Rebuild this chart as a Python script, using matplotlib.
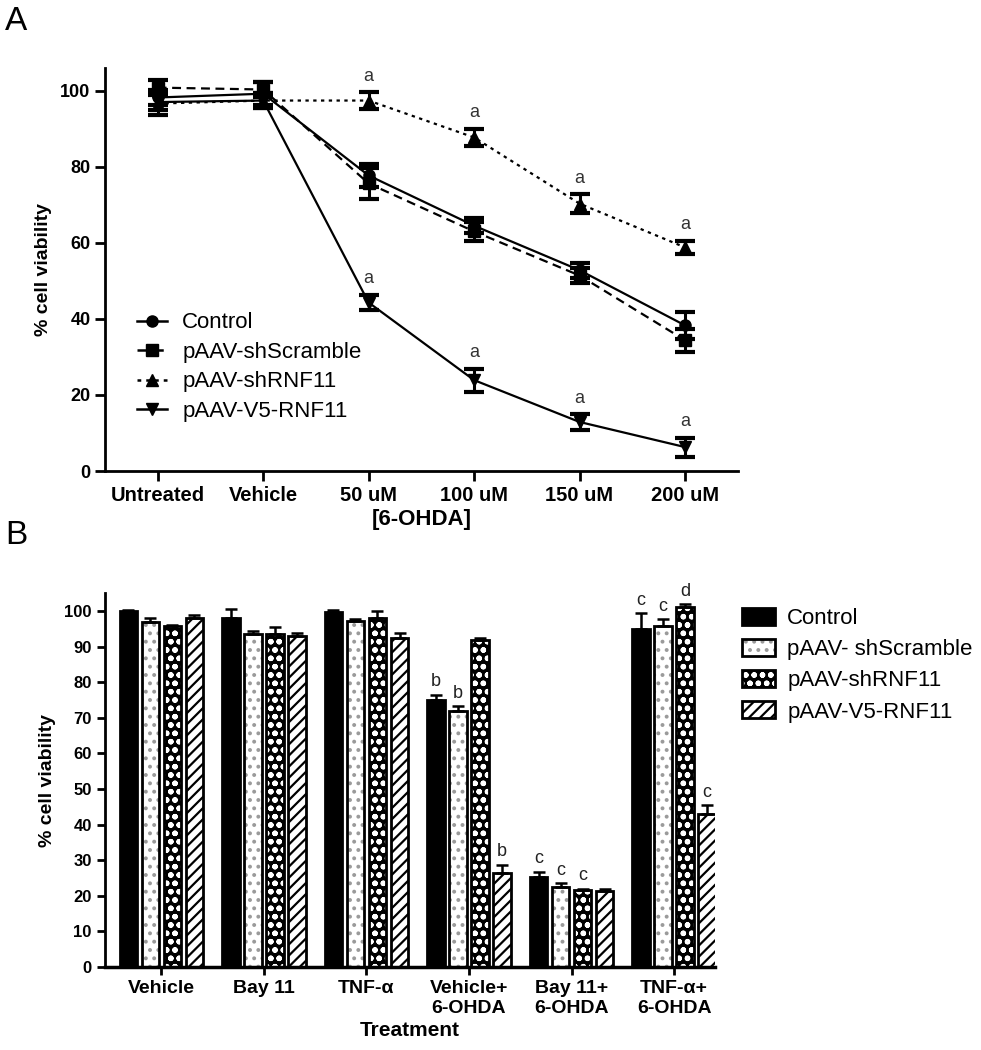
import matplotlib
matplotlib.use("Agg")
import matplotlib.pyplot as plt
from matplotlib.lines import Line2D
from matplotlib.patches import Patch
import numpy as np

plt.rcParams['font.family'] = ['Liberation Sans', 'DejaVu Sans']
plt.rcParams['hatch.linewidth'] = 1.6

# Panel A: dose response
doses = ["Untreated", "Vehicle", "50 uM", "100 uM", "150 uM", "200 uM"]
control = [98.2, 99.2, 77.7, 64.5, 52.8, 38.3]
control_err = [2.0, 3.0, 3.0, 2.0, 2.0, 3.5]
scramble = [100.8, 100.3, 75.6, 63.0, 51.4, 34.4]
scramble_err = [2.0, 2.0, 4.0, 2.5, 2.0, 3.0]
shrnf11 = [96.6, 97.4, 97.4, 87.7, 70.3, 58.8]
shrnf11_err = [3.0, 2.0, 2.2, 2.3, 2.5, 1.8]
v5rnf11 = [97.0, 97.4, 44.3, 23.9, 12.9, 6.3]
v5rnf11_err = [2.0, 2.0, 2.0, 3.0, 2.0, 2.5]
a_labels_shrnf11 = ["", "", "a", "a", "a", "a"]
a_labels_v5 = ["", "", "a", "a", "a", "a"]

# Panel B: treatments
treatments = ["Vehicle", "Bay 11", "TNF-\u03b1", "Vehicle+\n6-OHDA", "Bay 11+\n6-OHDA", "TNF-\u03b1+\n6-OHDA"]
groups = ["Control", "pAAV- shScramble", "pAAV-shRNF11", "pAAV-V5-RNF11"]
b_control = [100.0, 98.0, 99.8, 75.0, 25.3, 95.0]
b_control_err = [0.3, 2.5, 0.5, 1.5, 1.5, 4.5]
b_scramble = [97.0, 93.5, 97.3, 72.0, 22.5, 95.8]
b_scramble_err = [1.0, 1.0, 0.6, 1.3, 1.0, 2.0]
b_shrnf11 = [95.7, 93.5, 98.0, 92.0, 21.7, 101.0]
b_shrnf11_err = [0.4, 2.0, 2.0, 0.3, 0.3, 1.0]
b_v5 = [98.0, 93.0, 92.5, 26.5, 21.5, 43.0]
b_v5_err = [1.0, 0.8, 1.3, 2.3, 0.3, 2.5]
b_letters = [
    ["", "", "", "b", "c", "c"],
    ["", "", "", "b", "c", "c"],
    ["", "", "", "", "c", "d"],
    ["", "", "", "b", "", "c"],
]

fig = plt.figure(figsize=(9.81, 10.5), dpi=100)

# ---------- Panel A ----------
ax1 = fig.add_axes([0.107, 0.5514, 0.645, 0.384])
x = np.arange(len(doses))
series = [
    ("Control", control, control_err, "o", "-"),
    ("pAAV-shScramble", scramble, scramble_err, "s", (0, (4, 2.5))),
    ("pAAV-shRNF11", shrnf11, shrnf11_err, "^", (0, (1.5, 2))),
    ("pAAV-V5-RNF11", v5rnf11, v5rnf11_err, "v", "-"),
]
handles = []
for name, vals, errs, mk, ls in series:
    ax1.errorbar(x, vals, yerr=errs, color="black", marker=mk, markersize=8,
                 linestyle=ls, linewidth=1.6, elinewidth=2.2, capsize=7,
                 capthick=3)
    handles.append(Line2D([], [], color="black", marker=mk, markersize=8,
                          linestyle=ls, linewidth=1.8, label=name))

for i, lab in enumerate(a_labels_shrnf11):
    if lab:
        ax1.text(x[i], shrnf11[i] + shrnf11_err[i] + 2.0, lab, ha="center",
                 va="bottom", fontsize=13, color="#333333")
for i, lab in enumerate(a_labels_v5):
    if lab:
        ax1.text(x[i], v5rnf11[i] + v5rnf11_err[i] + 2.0, lab, ha="center",
                 va="bottom", fontsize=13, color="#333333")

ax1.set_xlim(-0.5, 5.5)
ax1.set_ylim(0, 106)
ax1.set_yticks([0, 20, 40, 60, 80, 100])
ax1.set_xticks(x)
ax1.set_xticklabels(doses, fontweight="bold", fontsize=14.5)
for t in ax1.get_yticklabels():
    t.set_fontweight("bold")
    t.set_fontsize(13)
ax1.spines["top"].set_visible(False)
ax1.spines["right"].set_visible(False)
ax1.spines["left"].set_linewidth(2)
ax1.spines["bottom"].set_linewidth(2)
ax1.tick_params(width=2, length=7)
ax1.set_ylabel("% cell viability", fontweight="bold", fontsize=14, labelpad=6)
ax1.set_xlabel("[6-OHDA]", fontweight="bold", fontsize=16, labelpad=3)
ax1.legend(handles=handles, loc="lower left", bbox_to_anchor=(0.036, 0.10),
           frameon=False, fontsize=16, handlelength=1.35, handletextpad=0.7,
           labelspacing=0.38, borderaxespad=0)

# ---------- Panel B ----------
ax2 = fig.add_axes([0.107, 0.079, 0.622, 0.356])
xb = np.arange(len(treatments))
width = 0.17
pitch = 0.215
b_series = [
    (b_control, b_control_err, "black", None, ""),
    (b_scramble, b_scramble_err, "white", "#9a9a9a", ".."),
    (b_shrnf11, b_shrnf11_err, "black", "white", "oo"),
    (b_v5, b_v5_err, "white", "black", "///"),
]
legend_handles = []
for k, (vals, errs, fc, hc, hatch) in enumerate(b_series):
    pos = xb + (k - 1.5) * pitch
    if hatch:
        ax2.bar(pos, vals, width=width, color=fc, edgecolor=hc, hatch=hatch,
                linewidth=0, zorder=2)
        ax2.bar(pos, vals, width=width, facecolor="none", edgecolor="black",
                linewidth=2, zorder=2.5)
    else:
        ax2.bar(pos, vals, width=width, color=fc, edgecolor="black",
                linewidth=2, zorder=2)
    ax2.errorbar(pos, vals, yerr=[np.zeros(len(errs)), errs], fmt="none",
                 ecolor="black", elinewidth=1.8, capsize=4, capthick=1.8, zorder=3)
    for i, lab in enumerate(b_letters[k]):
        if lab:
            ax2.text(pos[i], vals[i] + errs[i] + 1.2, lab, ha="center",
                     va="bottom", fontsize=13, color="#222222")
    legend_handles.append((Patch(facecolor=fc, edgecolor=hc if hc else "black",
                                 hatch=hatch, linewidth=0),
                           Patch(facecolor="none", edgecolor="black", linewidth=2)))

ax2.set_xlim(-0.55, 5.4)
ax2.set_ylim(0, 105)
ax2.set_yticks(np.arange(0, 101, 10))
ax2.set_xticks(xb)
ax2.set_xticklabels(treatments, fontweight="bold", fontsize=14)
for t in ax2.get_yticklabels():
    t.set_fontweight("bold")
    t.set_fontsize(12)
ax2.spines["top"].set_visible(False)
ax2.spines["right"].set_visible(False)
ax2.spines["left"].set_linewidth(2)
ax2.spines["bottom"].set_linewidth(2.5)
ax2.tick_params(width=2, length=6)
ax2.set_ylabel("% cell viability", fontweight="bold", fontsize=14, labelpad=6)
ax2.set_xlabel("Treatment", fontweight="bold", fontsize=15, labelpad=3)
ax2.legend(legend_handles, groups, loc="upper left", bbox_to_anchor=(1.029, 0.985),
           frameon=False, fontsize=16, handlelength=1.5, handleheight=0.8,
           handletextpad=0.55, labelspacing=0.45, borderaxespad=0)

fig.text(0.005, 0.994, "A", fontsize=24, va="top", ha="left")
fig.text(0.005, 0.505, "B", fontsize=24, va="top", ha="left")

fig.savefig("out.png", dpi=100)
